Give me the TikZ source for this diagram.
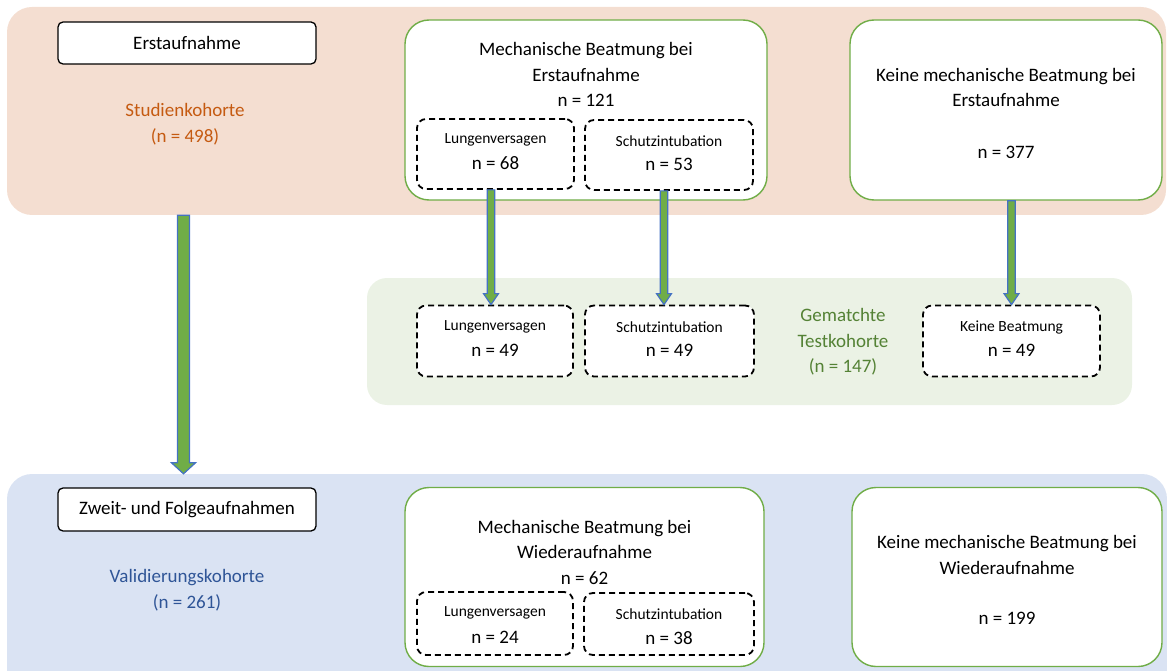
\documentclass[tikz,border=0pt]{standalone}
\usepackage{fontspec}
\setmainfont{Carlito}
\usetikzlibrary{calc}
\definecolor{peach}{HTML}{F4DED1}
\definecolor{lightgreen}{HTML}{EBF2E5}
\definecolor{lightblue}{HTML}{DAE3F3}
\definecolor{boxgreen}{HTML}{70AD47}
\definecolor{arrowblue}{HTML}{4472C4}
\definecolor{orangetxt}{HTML}{C55A11}
\definecolor{bluetxt}{HTML}{2F5597}
\definecolor{greentxt}{HTML}{548235}
\newcommand\FatArrow[5]{%
  \path[fatarrowstyle] let \p1=(#1), \p2=(#2) in
    (\x1-#3,\y1) -- (\x1+#3,\y1) -- (\x1+#3,\y2+#5) -- (\x1+#4,\y2+#5) -- (\x1,\y2)
    -- (\x1-#4,\y2+#5) -- (\x1-#3,\y2+#5) -- cycle;}
\tikzset{
  band/.style={rectangle, rounded corners=25pt, inner sep=0pt, draw=none},
  whitebox/.style={rectangle, rounded corners=24pt, draw=boxgreen, line width=1.4pt, fill=white, inner sep=0pt},
  dbox/.style={rectangle, rounded corners=9pt, draw=black, dash pattern=on 6pt off 4pt, line width=1.8pt, fill=white, inner sep=0pt},
  labelbox/.style={rectangle, rounded corners=5pt, draw=black, line width=1.3pt, fill=white, inner sep=0pt},
  txt/.style={align=center, font=\fontsize{19}{25.5}\selectfont, inner sep=0pt},
  smalltxt/.style={align=center, font=\fontsize{15.5}{20}\selectfont, inner sep=0pt},
  fatarrowstyle/.style={fill=boxgreen, draw=arrowblue, line width=1.2pt, line join=miter},
}
\begin{document}
\begin{tikzpicture}[x=1pt,y=-1pt]
\useasboundingbox (0,0) rectangle (1167,671);
\clip (0,0) rectangle (1167,671);
% bands
\node[band, fill=peach, minimum width=1159pt, minimum height=208pt] (band1) at (586.5,111) {};
\node[band, fill=lightgreen, rounded corners=20pt, minimum width=765pt, minimum height=127pt] (band2) at (749.5,341.5) {};
\node[band, fill=lightblue, minimum width=1160pt, minimum height=226pt] (band3) at (587,587) {};

% top section
\node[labelbox, minimum width=258pt, minimum height=42pt, txt] (erst) at (187,43) {Erstaufnahme};
\node[txt, text=orangetxt] (studien) at (185,124) {Studienkohorte\\(n = 498)};

\node[whitebox, minimum width=362pt, minimum height=180pt] (mech1) at (586,110) {};
\node[txt] (mech1t) at (586,74.5) {Mechanische Beatmung bei\\Erstaufnahme\\n = 121};
\node[dbox, minimum width=157pt, minimum height=70pt] (dl68) at (495.5,154) {};
\node[smalltxt] (dl68a) at (495.5,140) {Lungenversagen};
\node[txt] (dl68b) at (495.5,163) {n = 68};
\node[dbox, minimum width=168pt, minimum height=70pt] (ds53) at (669,155) {};
\node[smalltxt] (ds53a) at (669,141) {Schutzintubation};
\node[txt] (ds53b) at (669,164) {n = 53};

\node[whitebox, minimum width=312pt, minimum height=180pt] (keine1) at (1006,110) {};
\node[txt] (keine1t) at (1006,87.5) {Keine mechanische Beatmung bei\\Erstaufnahme};
\node[txt] (keine1n) at (1006,152) {n = 377};

% middle section
\node[dbox, minimum width=156pt, minimum height=71pt] (dl49) at (495,341) {};
\node[smalltxt] (dl49a) at (495,327) {Lungenversagen};
\node[txt] (dl49b) at (495,350) {n = 49};
\node[dbox, minimum width=169pt, minimum height=71pt] (ds49) at (669.5,341) {};
\node[smalltxt] (ds49a) at (669.5,327) {Schutzintubation};
\node[txt] (ds49b) at (669.5,350) {n = 49};
\node[txt, text=greentxt] (gemat) at (843,342) {Gematchte\\Testkohorte\\(n = 147)};
\node[dbox, minimum width=177pt, minimum height=71pt] (kb) at (1011.5,341) {};
\node[smalltxt] (kba) at (1011.5,327) {Keine Beatmung};
\node[txt] (kbb) at (1011.5,350) {n = 49};

% bottom section
\node[labelbox, minimum width=258pt, minimum height=43pt, txt] (zweit) at (187,509.5) {Zweit- und Folgeaufnahmen};
\node[txt, text=bluetxt] (valid) at (187,590) {Validierungskohorte\\(n = 261)};

\node[whitebox, minimum width=359pt, minimum height=179pt] (mech2) at (584.5,577) {};
\node[txt] (mech2t) at (584.5,552) {Mechanische Beatmung bei\\Wiederaufnahme\\n = 62};
\node[dbox, minimum width=156pt, minimum height=63pt] (dl24) at (495,623.5) {};
\node[smalltxt] (dl24a) at (495,613) {Lungenversagen};
\node[txt] (dl24b) at (495,637) {n = 24};
\node[dbox, minimum width=170pt, minimum height=62pt] (ds38) at (669,624) {};
\node[smalltxt] (ds38a) at (669,614) {Schutzintubation};
\node[txt] (ds38b) at (669,638) {n = 38};

\node[whitebox, minimum width=310pt, minimum height=179pt] (keine2) at (1007,577) {};
\node[txt] (keine2t) at (1007,555) {Keine mechanische Beatmung bei\\Wiederaufnahme};
\node[txt] (keine2n) at (1007,618) {n = 199};

% arrows
\coordinate (bigx) at (183.5,0);
\coordinate (a1s) at ($(dl68.south)+(-4.5,0)$);
\coordinate (a2s) at ($(ds53.south)+(-5,0)$);
\coordinate (a3s) at (keine1.south -| kb.north);
\FatArrow{band1.south -| bigx}{band3.north -| bigx}{6pt}{12pt}{11pt}
\FatArrow{a1s}{dl49.north}{3.8pt}{7.5pt}{11pt}
\FatArrow{a2s}{ds49.north}{3.8pt}{7.5pt}{11pt}
\FatArrow{a3s}{kb.north}{3.8pt}{7.5pt}{11pt}
\end{tikzpicture}
\end{document}
